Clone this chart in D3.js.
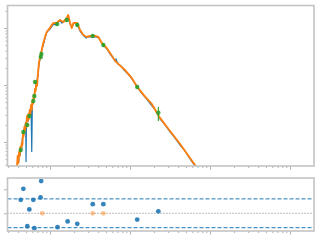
<!DOCTYPE html>
<html>
<head>
<meta charset="utf-8">
<script src="https://cdn.jsdelivr.net/npm/d3@7"></script>
<style>
  body { margin: 0; background: #fff; }
  svg { display: block; }
</style>
</head>
<body>
<div id="chart"></div>
<script>
var w = 320;
var h = 240;

// model spectrum (wavelength in micron, flux)
var modelWave = [0.0387, 0.0394, 0.0402, 0.0410, 0.0418, 0.0425, 0.0434, 0.0443, 0.0451, 0.0460,
  0.0468, 0.0477, 0.0487, 0.0497, 0.0505, 0.0516, 0.0527, 0.0535, 0.0546, 0.0557,
  0.0568, 0.0579, 0.0591, 0.0601, 0.0613, 0.0625, 0.0637, 0.0649, 0.0662, 0.0674,
  0.0688, 0.0702, 0.0714, 0.0729, 0.0750, 0.0787, 0.0825, 0.0866, 0.0909, 0.0953,
  0.100, 0.105, 0.110, 0.121, 0.133, 0.147, 0.162, 0.169, 0.178, 0.187,
  0.196, 0.219, 0.237, 0.261, 0.287, 0.316, 0.365, 0.402, 0.443, 0.511,
  0.562, 0.668, 0.866, 1.05, 1.23, 1.54, 1.87, 2.37, 3.16, 4.22,
  5.62, 6.88, 8.66];
var modelFlux = [3.79e-13, 5.68e-13, 4.28e-13, 6.68e-13, 5.68e-13, 8.17e-13, 6.95e-13, 9.60e-13, 8.85e-13, 1.44e-12,
  1.27e-12, 1.83e-12, 1.56e-12, 2.15e-12, 1.83e-12, 2.86e-12, 2.33e-12, 3.10e-12, 2.54e-12, 3.64e-12,
  3.10e-12, 4.46e-12, 3.64e-12, 5.24e-12, 4.65e-12, 6.68e-12, 5.91e-12, 8.51e-12, 7.85e-12, 1.08e-11,
  9.60e-12, 1.44e-11, 1.83e-11, 2.54e-11, 2.98e-11, 4.11e-11, 5.46e-11, 6.95e-11, 8.51e-11, 9.23e-11,
  1.00e-10, 1.13e-10, 1.22e-10, 1.22e-10, 1.38e-10, 1.27e-10, 1.50e-10, 1.69e-10, 1.22e-10, 1.00e-10,
  1.22e-10, 1.22e-10, 9.23e-11, 7.54e-11, 6.95e-11, 7.24e-11, 7.24e-11, 6.95e-11, 5.46e-11, 4.46e-11,
  3.64e-11, 2.54e-11, 1.83e-11, 1.33e-11, 9.23e-12, 6.24e-12, 4.65e-12, 2.64e-12, 1.56e-12, 9.23e-13,
  5.24e-13, 3.50e-13, 2.24e-13];

// observed spectrum
var specWave = [0.0390, 0.0398, 0.0406, 0.0413, 0.0422, 0.0430, 0.0441, 0.0451, 0.0460, 0.0473,
  0.0487, 0.0497, 0.0501, 0.0508, 0.0520, 0.0531, 0.0546, 0.0562, 0.0579, 0.0591,
  0.0601, 0.0613, 0.0631, 0.0649, 0.0668, 0.0688, 0.0708, 0.0718, 0.0739, 0.0761,
  0.0794, 0.0830, 0.0866, 0.0904, 0.0944, 0.100, 0.106, 0.112, 0.119, 0.126,
  0.133, 0.141, 0.150, 0.158, 0.168, 0.178, 0.188, 0.200, 0.211, 0.224,
  0.237, 0.251, 0.266, 0.282, 0.299, 0.335, 0.376, 0.410, 0.434, 0.473,
  0.516, 0.562, 0.613, 0.649, 0.668, 0.708, 0.772, 0.841, 0.944, 1.06,
  1.19, 1.33, 1.50, 1.68, 1.88, 2.11, 2.37, 2.74, 3.16, 3.65,
  4.22, 4.87, 5.62, 6.49, 7.50];
var specFlux = [3.79e-13, 5.24e-13, 4.28e-13, 6.68e-13, 5.68e-13, 8.51e-13, 7.25e-13, 1.17e-12, 1.38e-12, 1.62e-12,
  1.91e-12, 2.24e-12, 4.46e-13, 2.43e-12, 2.64e-12, 2.24e-12, 2.98e-12, 3.36e-12, 3.95e-12, 6.68e-13,
  4.28e-12, 5.04e-12, 6.41e-12, 8.17e-12, 9.60e-12, 1.22e-11, 1.44e-11, 1.99e-11, 2.54e-11, 3.23e-11,
  4.28e-11, 5.24e-11, 6.68e-11, 8.17e-11, 8.85e-11, 9.60e-11, 1.08e-10, 1.17e-10, 1.13e-10, 1.27e-10,
  1.33e-10, 1.22e-10, 1.33e-10, 1.44e-10, 1.56e-10, 1.17e-10, 1.04e-10, 1.22e-10, 1.17e-10, 1.08e-10,
  8.85e-11, 7.85e-11, 7.24e-11, 6.68e-11, 6.95e-11, 6.95e-11, 6.95e-11, 6.68e-11, 5.68e-11, 4.83e-11,
  4.28e-11, 3.50e-11, 2.98e-11, 2.64e-11, 2.85e-11, 2.33e-11, 2.15e-11, 1.83e-11, 1.56e-11, 1.27e-11,
  1.00e-11, 7.85e-12, 6.41e-12, 5.24e-12, 4.28e-12, 3.50e-12, 2.54e-12, 1.99e-12, 1.50e-12, 1.17e-12,
  8.85e-13, 6.95e-13, 5.04e-13, 3.79e-13, 2.86e-13];

// photometry
var photWave = [0.0430, 0.0464, 0.0520, 0.0551, 0.0618, 0.0637, 0.0649, 0.0765, 0.0780, 0.123,
  0.162, 0.219, 0.342, 0.464, 1.23, 2.26];
var photFlux = [7.25e-13, 1.50e-12, 1.99e-12, 2.86e-12, 5.24e-12, 6.41e-12, 1.13e-11, 3.10e-11, 3.50e-11, 1.17e-10,
  1.38e-10, 1.13e-10, 7.24e-11, 5.04e-11, 9.23e-12, 3.27e-12];
var photLo = [6.6e-13, 1.38e-12, 1.83e-12, 2.64e-12, 4.83e-12, 5.9e-12, 1.04e-11, 2.86e-11, 3.23e-11, 1.08e-10,
  1.27e-10, 1.04e-10, 6.68e-11, 4.65e-11, 8.5e-12, 2.33e-12];
var photHi = [7.9e-13, 1.62e-12, 2.15e-12, 3.10e-12, 5.68e-12, 6.95e-12, 1.22e-11, 3.36e-11, 3.80e-11, 1.27e-10,
  1.50e-10, 1.22e-10, 7.85e-11, 5.46e-11, 1.0e-11, 4.11e-12];

// residuals
var resWave = [0.0430, 0.0464, 0.0520, 0.0551, 0.0618, 0.0637, 0.0761, 0.0775, 0.124, 0.166,
  0.219, 0.342, 0.464, 1.23, 2.26];
var resValue = [0.28, 0.51, -0.27, 0.08, 0.28, -0.31, 0.33, 0.67, -0.29, -0.17,
  -0.22, 0.19, 0.19, -0.13, 0.04];
var limWave = [0.0801, 0.342, 0.464];
var limValue = [0, 0, 0];
var resBand = [-0.3, 0.3];

// ticks
var xMajorTicks = [0.1, 1, 10, 100];
var xMinorTicks = [0.03, 0.04, 0.05, 0.06, 0.07, 0.08, 0.09,
  0.2, 0.3, 0.4, 0.5, 0.6, 0.7, 0.8, 0.9,
  2, 3, 4, 5, 6, 7, 8, 9,
  20, 30, 40, 50, 60, 70, 80, 90];
var yMajorTicks = [1e-12, 1e-11, 1e-10];
var yMinorTicks = [4e-13, 5e-13, 6e-13, 7e-13, 8e-13, 9e-13,
  2e-12, 3e-12, 4e-12, 5e-12, 6e-12, 7e-12, 8e-12, 9e-12,
  2e-11, 3e-11, 4e-11, 5e-11, 6e-11, 7e-11, 8e-11, 9e-11, 2e-10];
var resTicks = [0, 0.5];

var top1 = { top: 5.5, bottom: 166 };
var bot1 = { top: 178, bottom: 231 };
var left = 7.5, right = 314;

var svg = d3.select("#chart").append("svg").attr("width", w).attr("height", h);
svg.append("rect").attr("width", w).attr("height", h).attr("fill", "#fff");

var xScale = d3.scaleLog().domain([0.0294, 199.5]).range([left, right]);
var yScale = d3.scaleLog().domain([3.79e-13, 2.48e-10]).range([top1.bottom, top1.top]);
var rScale = d3.scaleLinear().domain([-0.369, 0.735]).range([bot1.bottom, bot1.top]);

var defs = svg.append("defs");
defs.append("clipPath").attr("id", "clipTop").append("rect")
  .attr("x", left).attr("y", top1.top).attr("width", right - left).attr("height", top1.bottom - top1.top);

var tickColor = "#b0b0b0";
var spineColor = "#c4c4c4";

function drawAxis(g, axis) {
  g.call(axis);
  g.select(".domain").remove();
  g.selectAll("line").attr("stroke", tickColor).attr("stroke-width", 1);
  g.selectAll("text").remove();
}

// top panel axes ticks
drawAxis(svg.append("g").attr("transform", "translate(0," + top1.bottom + ")"),
  d3.axisBottom(xScale).tickValues(xMajorTicks).tickSize(3.5).tickFormat(""));
drawAxis(svg.append("g").attr("transform", "translate(0," + top1.bottom + ")"),
  d3.axisBottom(xScale).tickValues(xMinorTicks).tickSize(2).tickFormat(""));
drawAxis(svg.append("g").attr("transform", "translate(" + left + ",0)"),
  d3.axisLeft(yScale).tickValues(yMajorTicks).tickSize(3.5).tickFormat(""));
drawAxis(svg.append("g").attr("transform", "translate(" + left + ",0)"),
  d3.axisLeft(yScale).tickValues(yMinorTicks).tickSize(2).tickFormat(""));

// bottom panel axes ticks
drawAxis(svg.append("g").attr("transform", "translate(0," + bot1.bottom + ")"),
  d3.axisBottom(xScale).tickValues(xMajorTicks).tickSize(3.5).tickFormat(""));
drawAxis(svg.append("g").attr("transform", "translate(0," + bot1.bottom + ")"),
  d3.axisBottom(xScale).tickValues(xMinorTicks).tickSize(2).tickFormat(""));
drawAxis(svg.append("g").attr("transform", "translate(" + left + ",0)"),
  d3.axisLeft(rScale).tickValues(resTicks).tickSize(3.5).tickFormat(""));

// spectra
var plot = svg.append("g").attr("clip-path", "url(#clipTop)");

var specData = specWave.map(function(d, i) { return [d, specFlux[i]]; });
var modelData = modelWave.map(function(d, i) { return [d, modelFlux[i]]; });

var line = d3.line()
  .x(function(d) { return xScale(d[0]); })
  .y(function(d) { return yScale(d[1]); });

plot.append("path").datum(specData)
  .attr("d", line)
  .attr("fill", "none")
  .attr("stroke", "#1f77b4")
  .attr("stroke-width", 1.2);

plot.append("path").datum(modelData)
  .attr("d", line)
  .attr("fill", "none")
  .attr("stroke", "#ff7f0e")
  .attr("stroke-width", 1.9)
  .attr("stroke-linejoin", "round");

// photometry with error bars
var phot = plot.append("g").selectAll("g")
  .data(photWave.map(function(d, i) { return { w: d, f: photFlux[i], lo: photLo[i], hi: photHi[i] }; }))
  .enter().append("g");

phot.append("line")
  .attr("x1", function(d) { return xScale(d.w); })
  .attr("x2", function(d) { return xScale(d.w); })
  .attr("y1", function(d) { return yScale(d.lo); })
  .attr("y2", function(d) { return yScale(d.hi); })
  .attr("stroke", "#2ca02c")
  .attr("stroke-width", 1.1);

phot.append("circle")
  .attr("cx", function(d) { return xScale(d.w); })
  .attr("cy", function(d) { return yScale(d.f); })
  .attr("r", 2.2)
  .attr("fill", "#2ca02c")
  .attr("fill-opacity", 0.85);

// residual panel reference lines
svg.append("line")
  .attr("x1", left).attr("x2", right)
  .attr("y1", rScale(0)).attr("y2", rScale(0))
  .attr("stroke", "#7f7f7f")
  .attr("stroke-width", 1)
  .attr("stroke-dasharray", "1,2");

svg.append("g").selectAll("line")
  .data(resBand)
  .enter().append("line")
  .attr("x1", left).attr("x2", right)
  .attr("y1", function(d) { return rScale(d); })
  .attr("y2", function(d) { return rScale(d); })
  .attr("stroke", "#1f77b4")
  .attr("stroke-width", 1)
  .attr("stroke-dasharray", "4,2");

svg.append("g").selectAll("circle")
  .data(limWave)
  .enter().append("circle")
  .attr("cx", function(d) { return xScale(d); })
  .attr("cy", function(d, i) { return rScale(limValue[i]); })
  .attr("r", 2.4)
  .attr("fill", "#ff7f0e")
  .attr("fill-opacity", 0.45);

svg.append("g").selectAll("circle")
  .data(resWave)
  .enter().append("circle")
  .attr("cx", function(d) { return xScale(d); })
  .attr("cy", function(d, i) { return rScale(resValue[i]); })
  .attr("r", 2.4)
  .attr("fill", "#1f77b4")
  .attr("fill-opacity", 0.9);

// spines
[top1, bot1].forEach(function(p) {
  svg.append("rect")
    .attr("x", left).attr("y", p.top)
    .attr("width", right - left).attr("height", p.bottom - p.top)
    .attr("fill", "none")
    .attr("stroke", spineColor)
    .attr("stroke-width", 1.6);
});
</script>
</body>
</html>
